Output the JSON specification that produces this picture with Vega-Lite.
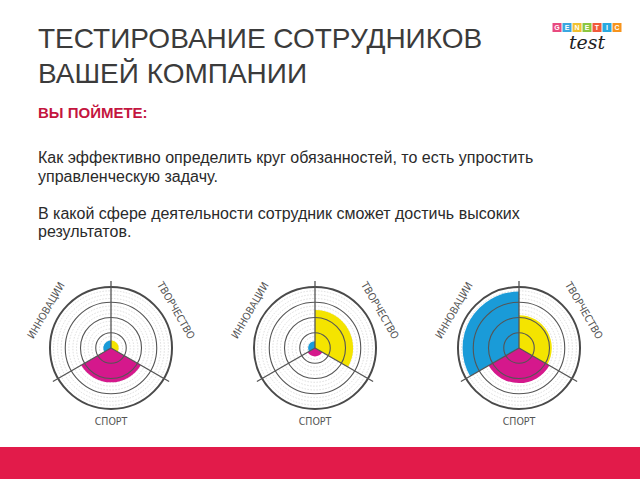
{
  "$schema": "https://vega.github.io/schema/vega-lite/v6.json",
  "padding": {"left": 0, "right": 0, "top": 20, "bottom": 0},
  "background": "white",
  "spacing": 17,
  "resolve": {"scale": {"color": "independent", "theta": "independent", "radius": "independent", "angle": "independent"}},
  "config": {"view": {"stroke": null}, "font": "Liberation Sans"},
  "datasets": {
    "scores": [
      {"chart": 1, "axis": "ТВОРЧЕСТВО", "idx": 1, "value": 0.5},
      {"chart": 1, "axis": "СПОРТ", "idx": 2, "value": 2.25},
      {"chart": 1, "axis": "ИННОВАЦИИ", "idx": 3, "value": 0.5},
      {"chart": 2, "axis": "ТВОРЧЕСТВО", "idx": 1, "value": 2.5},
      {"chart": 2, "axis": "СПОРТ", "idx": 2, "value": 0.55},
      {"chart": 2, "axis": "ИННОВАЦИИ", "idx": 3, "value": 0.45},
      {"chart": 3, "axis": "ТВОРЧЕСТВО", "idx": 1, "value": 2.15},
      {"chart": 3, "axis": "СПОРТ", "idx": 2, "value": 2.3},
      {"chart": 3, "axis": "ИННОВАЦИИ", "idx": 3, "value": 3.7}
    ],
    "rings": [{"r": 1}, {"r": 2}, {"r": 3}, {"r": 4}],
    "minor": [{"r": 0.25}, {"r": 0.5}, {"r": 0.75}, {"r": 1.25}, {"r": 1.5}, {"r": 1.75}, {"r": 2.25}, {"r": 2.5}, {"r": 2.75}, {"r": 3.25}, {"r": 3.5}, {"r": 3.75}],
    "edges": [{"edge": 0}, {"edge": 1}, {"edge": 2}],
    "logo": [
      {"letter": "G", "pos": 1, "part": "letters"},
      {"letter": "E", "pos": 2, "part": "letters"},
      {"letter": "N", "pos": 3, "part": "letters"},
      {"letter": "E", "pos": 4, "part": "letters"},
      {"letter": "T", "pos": 5, "part": "letters"},
      {"letter": "I", "pos": 6, "part": "letters"},
      {"letter": "C", "pos": 7, "part": "letters"},
      {"letter": "test", "pos": 0, "part": "word"}
    ]
  },
  "vconcat": [
    {
      "spacing": 39,
      "hconcat": [
        {
          "width": 513, "height": 1, "data": {"values": []}, "mark": "point",
          "title": {
            "text": ["ТЕСТИРОВАНИЕ СОТРУДНИКОВ", "ВАШЕЙ КОМПАНИИ"],
            "orient": "bottom", "anchor": "start", "frame": "group", "dx": 38, "baseline": "top",
            "fontSize": 28, "fontWeight": "normal", "color": "#3b3b3b", "lineHeight": 34.5,
            "offset": 5
          }
        },
        {
          "width": 70,
          "height": 30,
          "data": {"name": "logo"},
          "layer": [
            {
              "transform": [{"filter": "datum.part == 'letters'"}],
              "mark": {"type": "square", "size": 81, "opacity": 1},
              "encoding": {
                "x": {"field": "pos", "type": "ordinal", "axis": null},
                "y": {"field": "part", "type": "nominal", "axis": null, "scale": {"domain": ["letters", "word"]}},
                "color": {"field": "pos", "type": "ordinal", "legend": null,
                  "scale": {"range": ["#e84a7f", "#3aa7e0", "#f2c12e", "#8cc63f", "#f15a3a", "#29a9e0", "#f7941d"]}}
              }
            },
            {
              "transform": [{"filter": "datum.part == 'letters'"}],
              "mark": {"type": "text", "fontSize": 7, "fontWeight": "bold", "color": "white"},
              "encoding": {
                "x": {"field": "pos", "type": "ordinal", "axis": null},
                "y": {"field": "part", "type": "nominal", "axis": null},
                "text": {"field": "letter"}
              }
            },
            {
              "transform": [{"filter": "datum.part == 'word'"}],
              "mark": {"type": "text", "fontSize": 19, "font": "DejaVu Serif", "fontStyle": "italic", "color": "#222"},
              "encoding": {
                "y": {"field": "part", "type": "nominal", "axis": null},
                "text": {"field": "letter"}
              }
            }
          ]
        }
      ]
    },
    {
      "title": {
        "text": "ВЫ ПОЙМЕТЕ:",
        "subtitle": ["Как эффективно определить круг обязанностей, то есть упростить", "управленческую задачу.", "\u200b", "В какой сфере деятельности сотрудник сможет достичь высоких", "результатов."],
        "anchor": "start", "frame": "group", "dx": 38,
        "fontSize": 15, "fontWeight": "bold", "color": "#c4163f",
        "subtitleFontSize": 16, "subtitleColor": "#2a2a2a", "subtitleLineHeight": 18.5, "subtitlePadding": 29,
        "offset": 26
      },
      "spacing": 0,
      "hconcat": [
        {"width": 9, "height": 10, "data": {"values": []}, "mark": "point"},
        {
          "width": 204, "height": 164,
          "layer": [
            {"data": {"name": "minor"}, "mark": {"type": "arc", "theta": 0, "theta2": 6.2832, "filled": false, "stroke": "#d4d4d4", "strokeDash": [1.5, 1.5], "strokeWidth": 0.8},
             "encoding": {"radius": {"field": "r", "type": "quantitative", "stack": null, "scale": {"type": "linear", "domain": [0, 4], "range": [0, 61], "zero": true}}}},
            {"data": {"name": "scores"},
             "transform": [{"filter": "datum.chart == 1"}, {"aggregate": [{"op": "count", "as": "share"}], "groupby": ["axis", "idx", "value"]}, {"stack": "share", "groupby": [], "sort": [{"field": "idx", "order": "ascending"}], "as": ["t0", "t1"]}],
             "mark": {"type": "arc"},
             "encoding": {"theta": {"field": "t0", "type": "quantitative", "stack": null, "scale": {"domain": [0, 3]}}, "theta2": {"field": "t1"},
               "radius": {"field": "value", "type": "quantitative", "stack": null, "scale": {"type": "linear", "domain": [0, 4], "range": [0, 61], "zero": true}},
               "color": {"field": "axis", "type": "nominal", "legend": null, "scale": {"domain": ["ТВОРЧЕСТВО", "СПОРТ", "ИННОВАЦИИ"], "range": ["#f4e400", "#d5188c", "#1a9bd8"]}}}},
            {"data": {"name": "rings"}, "transform": [{"filter": "datum.r < 4"}], "mark": {"type": "arc", "theta": 0, "theta2": 6.2832, "filled": false, "stroke": "#555", "strokeWidth": 1.1},
             "encoding": {"radius": {"field": "r", "type": "quantitative", "stack": null, "scale": {"type": "linear", "domain": [0, 4], "range": [0, 61], "zero": true}}}},
            {"data": {"name": "rings"}, "transform": [{"filter": "datum.r == 4"}], "mark": {"type": "arc", "theta": 0, "theta2": 6.2832, "filled": false, "stroke": "#4a4a4a", "strokeWidth": 2},
             "encoding": {"radius": {"field": "r", "type": "quantitative", "stack": null, "scale": {"type": "linear", "domain": [0, 4], "range": [0, 61], "zero": true}}}},
            {"data": {"name": "edges"}, "mark": {"type": "arc", "filled": false, "stroke": "#555", "strokeWidth": 1.3},
             "encoding": {"theta": {"field": "edge", "type": "quantitative", "stack": null, "scale": {"domain": [0, 3]}}, "theta2": {"field": "edge"},
               "radius": {"datum": 4.4, "type": "quantitative", "stack": null, "scale": {"type": "linear", "domain": [0, 4], "range": [0, 61], "zero": true}}}},
            {"data": {"name": "scores"}, "transform": [{"filter": "datum.chart == 1"}], "mark": {"type": "text", "fontSize": 10.5, "font": "DejaVu Sans Condensed, Liberation Sans, sans-serif", "color": "#555"},
             "encoding": {"theta": {"aggregate": "count", "type": "quantitative", "stack": true, "scale": {"domain": [0, 3]}},
               "order": {"field": "idx", "type": "quantitative"},
               "radius": {"datum": 4.88, "type": "quantitative", "scale": {"type": "linear", "domain": [0, 4], "range": [0, 61], "zero": true}},
               "angle": {"field": "idx", "type": "quantitative", "scale": {"domain": [1, 3], "range": [60, -60]}, "legend": null},
               "text": {"field": "axis"}}}
          ]
        },
        {
          "width": 204, "height": 164,
          "layer": [
            {"data": {"name": "minor"}, "mark": {"type": "arc", "theta": 0, "theta2": 6.2832, "filled": false, "stroke": "#d4d4d4", "strokeDash": [1.5, 1.5], "strokeWidth": 0.8},
             "encoding": {"radius": {"field": "r", "type": "quantitative", "stack": null, "scale": {"type": "linear", "domain": [0, 4], "range": [0, 61], "zero": true}}}},
            {"data": {"name": "scores"},
             "transform": [{"filter": "datum.chart == 2"}, {"aggregate": [{"op": "count", "as": "share"}], "groupby": ["axis", "idx", "value"]}, {"stack": "share", "groupby": [], "sort": [{"field": "idx", "order": "ascending"}], "as": ["t0", "t1"]}],
             "mark": {"type": "arc"},
             "encoding": {"theta": {"field": "t0", "type": "quantitative", "stack": null, "scale": {"domain": [0, 3]}}, "theta2": {"field": "t1"},
               "radius": {"field": "value", "type": "quantitative", "stack": null, "scale": {"type": "linear", "domain": [0, 4], "range": [0, 61], "zero": true}},
               "color": {"field": "axis", "type": "nominal", "legend": null, "scale": {"domain": ["ТВОРЧЕСТВО", "СПОРТ", "ИННОВАЦИИ"], "range": ["#f4e400", "#d5188c", "#1a9bd8"]}}}},
            {"data": {"name": "rings"}, "transform": [{"filter": "datum.r < 4"}], "mark": {"type": "arc", "theta": 0, "theta2": 6.2832, "filled": false, "stroke": "#555", "strokeWidth": 1.1},
             "encoding": {"radius": {"field": "r", "type": "quantitative", "stack": null, "scale": {"type": "linear", "domain": [0, 4], "range": [0, 61], "zero": true}}}},
            {"data": {"name": "rings"}, "transform": [{"filter": "datum.r == 4"}], "mark": {"type": "arc", "theta": 0, "theta2": 6.2832, "filled": false, "stroke": "#4a4a4a", "strokeWidth": 2},
             "encoding": {"radius": {"field": "r", "type": "quantitative", "stack": null, "scale": {"type": "linear", "domain": [0, 4], "range": [0, 61], "zero": true}}}},
            {"data": {"name": "edges"}, "mark": {"type": "arc", "filled": false, "stroke": "#555", "strokeWidth": 1.3},
             "encoding": {"theta": {"field": "edge", "type": "quantitative", "stack": null, "scale": {"domain": [0, 3]}}, "theta2": {"field": "edge"},
               "radius": {"datum": 4.4, "type": "quantitative", "stack": null, "scale": {"type": "linear", "domain": [0, 4], "range": [0, 61], "zero": true}}}},
            {"data": {"name": "scores"}, "transform": [{"filter": "datum.chart == 2"}], "mark": {"type": "text", "fontSize": 10.5, "font": "DejaVu Sans Condensed, Liberation Sans, sans-serif", "color": "#555"},
             "encoding": {"theta": {"aggregate": "count", "type": "quantitative", "stack": true, "scale": {"domain": [0, 3]}},
               "order": {"field": "idx", "type": "quantitative"},
               "radius": {"datum": 4.88, "type": "quantitative", "scale": {"type": "linear", "domain": [0, 4], "range": [0, 61], "zero": true}},
               "angle": {"field": "idx", "type": "quantitative", "scale": {"domain": [1, 3], "range": [60, -60]}, "legend": null},
               "text": {"field": "axis"}}}
          ]
        },
        {
          "width": 204, "height": 164,
          "layer": [
            {"data": {"name": "minor"}, "mark": {"type": "arc", "theta": 0, "theta2": 6.2832, "filled": false, "stroke": "#d4d4d4", "strokeDash": [1.5, 1.5], "strokeWidth": 0.8},
             "encoding": {"radius": {"field": "r", "type": "quantitative", "stack": null, "scale": {"type": "linear", "domain": [0, 4], "range": [0, 61], "zero": true}}}},
            {"data": {"name": "scores"},
             "transform": [{"filter": "datum.chart == 3"}, {"aggregate": [{"op": "count", "as": "share"}], "groupby": ["axis", "idx", "value"]}, {"stack": "share", "groupby": [], "sort": [{"field": "idx", "order": "ascending"}], "as": ["t0", "t1"]}],
             "mark": {"type": "arc"},
             "encoding": {"theta": {"field": "t0", "type": "quantitative", "stack": null, "scale": {"domain": [0, 3]}}, "theta2": {"field": "t1"},
               "radius": {"field": "value", "type": "quantitative", "stack": null, "scale": {"type": "linear", "domain": [0, 4], "range": [0, 61], "zero": true}},
               "color": {"field": "axis", "type": "nominal", "legend": null, "scale": {"domain": ["ТВОРЧЕСТВО", "СПОРТ", "ИННОВАЦИИ"], "range": ["#f4e400", "#d5188c", "#1a9bd8"]}}}},
            {"data": {"name": "rings"}, "transform": [{"filter": "datum.r < 4"}], "mark": {"type": "arc", "theta": 0, "theta2": 6.2832, "filled": false, "stroke": "#555", "strokeWidth": 1.1},
             "encoding": {"radius": {"field": "r", "type": "quantitative", "stack": null, "scale": {"type": "linear", "domain": [0, 4], "range": [0, 61], "zero": true}}}},
            {"data": {"name": "rings"}, "transform": [{"filter": "datum.r == 4"}], "mark": {"type": "arc", "theta": 0, "theta2": 6.2832, "filled": false, "stroke": "#4a4a4a", "strokeWidth": 2},
             "encoding": {"radius": {"field": "r", "type": "quantitative", "stack": null, "scale": {"type": "linear", "domain": [0, 4], "range": [0, 61], "zero": true}}}},
            {"data": {"name": "edges"}, "mark": {"type": "arc", "filled": false, "stroke": "#555", "strokeWidth": 1.3},
             "encoding": {"theta": {"field": "edge", "type": "quantitative", "stack": null, "scale": {"domain": [0, 3]}}, "theta2": {"field": "edge"},
               "radius": {"datum": 4.4, "type": "quantitative", "stack": null, "scale": {"type": "linear", "domain": [0, 4], "range": [0, 61], "zero": true}}}},
            {"data": {"name": "scores"}, "transform": [{"filter": "datum.chart == 3"}], "mark": {"type": "text", "fontSize": 10.5, "font": "DejaVu Sans Condensed, Liberation Sans, sans-serif", "color": "#555"},
             "encoding": {"theta": {"aggregate": "count", "type": "quantitative", "stack": true, "scale": {"domain": [0, 3]}},
               "order": {"field": "idx", "type": "quantitative"},
               "radius": {"datum": 4.88, "type": "quantitative", "scale": {"type": "linear", "domain": [0, 4], "range": [0, 61], "zero": true}},
               "angle": {"field": "idx", "type": "quantitative", "scale": {"domain": [1, 3], "range": [60, -60]}, "legend": null},
               "text": {"field": "axis"}}}
          ]
        }
      ]
    },
    {"width": 640, "height": 32, "data": {"values": []}, "mark": "point", "view": {"fill": "#e21b4a", "stroke": null}}
  ]
}
